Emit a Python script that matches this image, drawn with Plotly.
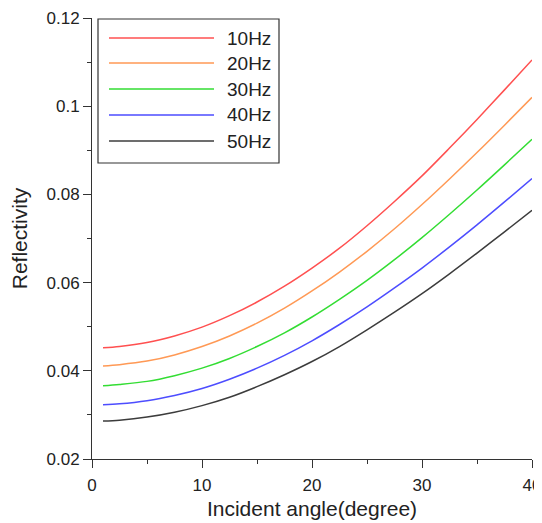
import plotly.graph_objects as go

angles = [1, 2.5, 5, 7.5, 10, 12.5, 15, 17.5, 20, 22.5, 25, 27.5, 30, 32.5, 35, 37.5, 40]
series_names = ["10Hz", "20Hz", "30Hz", "40Hz", "50Hz"]
r_10hz = [0.0452, 0.0455, 0.0464, 0.0479, 0.0499, 0.0525, 0.0556, 0.0592, 0.0633,
          0.0678, 0.0729, 0.0784, 0.0842, 0.0905, 0.0970, 0.1037, 0.1105]
r_20hz = [0.0411, 0.0414, 0.0422, 0.0436, 0.0455, 0.0479, 0.0508, 0.0542, 0.0581,
          0.0624, 0.0671, 0.0722, 0.0777, 0.0835, 0.0895, 0.0957, 0.1020]
r_30hz = [0.0366, 0.0369, 0.0376, 0.0389, 0.0406, 0.0428, 0.0455, 0.0486, 0.0522,
          0.0562, 0.0605, 0.0652, 0.0702, 0.0755, 0.0810, 0.0867, 0.0925]
r_40hz = [0.0323, 0.0325, 0.0332, 0.0344, 0.0360, 0.0381, 0.0406, 0.0435, 0.0468,
          0.0505, 0.0545, 0.0588, 0.0633, 0.0681, 0.0731, 0.0783, 0.0836]
r_50hz = [0.0286, 0.0288, 0.0295, 0.0306, 0.0321, 0.0340, 0.0364, 0.0391, 0.0421,
          0.0455, 0.0493, 0.0533, 0.0575, 0.0620, 0.0667, 0.0715, 0.0764]
series_values = [r_10hz, r_20hz, r_30hz, r_40hz, r_50hz]
colors = ["#FF5050", "#FF9955", "#33DD33", "#4D4DFF", "#3C3C3C"]

x_ticks = [0, 10, 20, 30, 40]
y_ticks = [0.02, 0.04, 0.06, 0.08, 0.1, 0.12]
y_tick_labels = ["0.02", "0.04", "0.06", "0.08", "0.1", "0.12"]

OFF = 8  # page body margin
W, H = 534, 515
ml, mr, mt, mb = 84, 10, 10, 64
font_family = "Liberation Sans, Arial, sans-serif"

fig = go.Figure()
for name, vals, col in zip(series_names, series_values, colors):
    fig.add_trace(go.Scatter(x=angles, y=vals, mode="lines", name=name,
                             line=dict(color=col, width=1.5, shape="spline", smoothing=0.9),
                             showlegend=False))

pw = W - ml - mr
ph = H - mt - mb
def px_to_paper_x(px):
    return (px - OFF - ml) / pw
def px_to_paper_y(py):
    return 1 - (py - OFF - mt) / ph

shapes = [dict(type="rect", xref="paper", yref="paper",
               x0=px_to_paper_x(98), x1=px_to_paper_x(279),
               y0=px_to_paper_y(163), y1=px_to_paper_y(19),
               line=dict(color="#333333", width=1.2), fillcolor="white")]
annotations = []
legend_y = [38, 63, 89, 115, 141]
for name, col, ly in zip(series_names, colors, legend_y):
    shapes.append(dict(type="line", xref="paper", yref="paper",
                       x0=px_to_paper_x(109), x1=px_to_paper_x(214),
                       y0=px_to_paper_y(ly), y1=px_to_paper_y(ly),
                       line=dict(color=col, width=1.5)))
    annotations.append(dict(xref="paper", yref="paper", x=px_to_paper_x(225),
                            y=px_to_paper_y(ly), text=name, showarrow=False,
                            xanchor="left", yanchor="middle",
                            font=dict(size=19, color="#222222", family=font_family)))

fig.update_layout(
    width=W, height=H,
    margin=dict(l=ml, r=mr, t=mt, b=mb, autoexpand=False),
    paper_bgcolor="white", plot_bgcolor="white",
    font=dict(family=font_family, size=17, color="#222222"),
    shapes=shapes, annotations=annotations,
    showlegend=False,
)
fig.update_xaxes(range=[0, 40], tickvals=x_ticks, ticks="outside", ticklen=8,
                 tickwidth=1, tickcolor="#333333", showline=True, linecolor="#333333",
                 linewidth=1, mirror=False, showgrid=False, zeroline=False, automargin=False,
                 minor=dict(dtick=5, ticks="outside", ticklen=4, tickcolor="#333333", showgrid=False),
                 tickfont=dict(size=17), ticklabelstandoff=3,
                 title=dict(text="Incident angle(degree)", font=dict(size=21), standoff=6))
fig.update_yaxes(range=[0.02, 0.12], tickvals=y_ticks, ticktext=y_tick_labels,
                 ticks="outside", ticklen=8, tickwidth=1, tickcolor="#333333",
                 showline=True, linecolor="#333333", linewidth=1, mirror=False,
                 showgrid=False, zeroline=False, automargin=False,
                 minor=dict(dtick=0.01, ticks="outside", ticklen=4, tickcolor="#333333", showgrid=False),
                 tickfont=dict(size=17),
                 title=dict(text="Reflectivity", font=dict(size=21), standoff=14))

fig.write_html("out.html")
